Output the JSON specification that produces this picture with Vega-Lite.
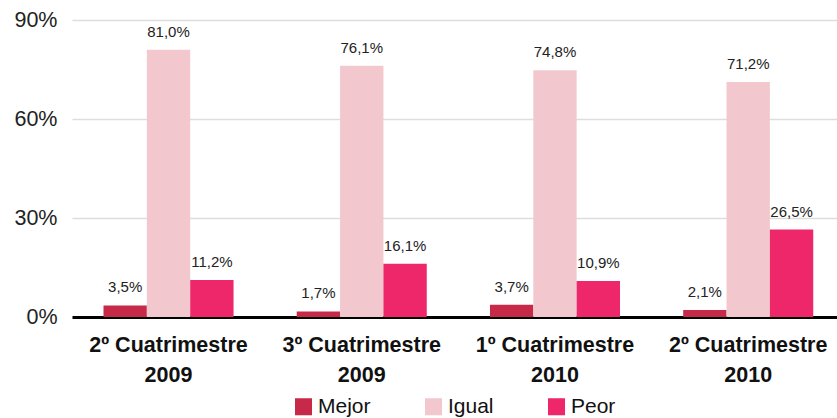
{
  "$schema": "https://vega.github.io/schema/vega-lite/v6.json",
  "autosize": "none",
  "width": 765,
  "height": 297,
  "padding": {"left": 72, "top": 20, "right": 0, "bottom": 101},
  "config": {
    "font": "Liberation Sans",
    "view": {"stroke": null},
    "legend": {"layout": {"bottom": {"anchor": "middle"}}},
    "locale": {"number": {"decimal": ",", "thousands": ".", "grouping": [3], "currency": ["", " €"]}}
  },
  "data": {
    "values": [
      {"periodo": "2º Cuatrimestre 2009", "opinion": "Mejor", "valor": 0.035},
      {"periodo": "2º Cuatrimestre 2009", "opinion": "Igual", "valor": 0.810},
      {"periodo": "2º Cuatrimestre 2009", "opinion": "Peor", "valor": 0.112},
      {"periodo": "3º Cuatrimestre 2009", "opinion": "Mejor", "valor": 0.017},
      {"periodo": "3º Cuatrimestre 2009", "opinion": "Igual", "valor": 0.761},
      {"periodo": "3º Cuatrimestre 2009", "opinion": "Peor", "valor": 0.161},
      {"periodo": "1º Cuatrimestre 2010", "opinion": "Mejor", "valor": 0.037},
      {"periodo": "1º Cuatrimestre 2010", "opinion": "Igual", "valor": 0.748},
      {"periodo": "1º Cuatrimestre 2010", "opinion": "Peor", "valor": 0.109},
      {"periodo": "2º Cuatrimestre 2010", "opinion": "Mejor", "valor": 0.021},
      {"periodo": "2º Cuatrimestre 2010", "opinion": "Igual", "valor": 0.712},
      {"periodo": "2º Cuatrimestre 2010", "opinion": "Peor", "valor": 0.265}
    ]
  },
  "encoding": {
    "x": {
      "field": "periodo", "type": "nominal", "sort": null, "title": null,
      "scale": {"paddingInner": 0.327, "paddingOuter": 0.143, "align": 0.57},
      "axis": {
        "labelAngle": 0, "ticks": false, "domainColor": "#000", "domainWidth": 3,
        "labelFont": "Liberation Sans", "labelFontSize": 21.5, "labelFontWeight": "bold", "labelColor": "#111",
        "labelPadding": 17, "labelLineHeight": 30, "labelBaseline": "top",
        "labelExpr": "[substring(datum.value, 0, 15), substring(datum.value, 16)]"
      }
    },
    "xOffset": {"field": "opinion", "type": "nominal", "sort": ["Mejor", "Igual", "Peor"]},
    "y": {
      "field": "valor", "type": "quantitative", "title": null,
      "scale": {"domain": [0, 0.9], "nice": false},
      "axis": {
        "values": [0, 0.3, 0.6, 0.9], "format": ".0%", "domain": false, "ticks": false,
        "labelFontSize": 21.5, "labelColor": "#222", "labelPadding": 15,
        "gridColor": "#dddddd", "gridWidth": 1.5
      }
    }
  },
  "layer": [
    {
      "mark": {"type": "bar"},
      "encoding": {
        "color": {
          "field": "opinion", "type": "nominal", "title": null,
          "scale": {"domain": ["Mejor", "Igual", "Peor"], "range": ["#C72A48", "#F2C8CE", "#EE276A"]},
          "legend": {
            "orient": "bottom", "direction": "horizontal", "symbolType": "square", "symbolSize": 290,
            "symbolStrokeWidth": 0, "labelFontSize": 21, "labelColor": "#111", "columnPadding": 52,
            "labelOffset": 4, "offset": 10, "symbolOpacity": 1
          }
        }
      }
    },
    {
      "mark": {"type": "text", "baseline": "bottom", "dy": -10, "fontSize": 15, "color": "#222"},
      "encoding": {
        "text": {"field": "valor", "type": "quantitative", "format": ".1%"}
      }
    }
  ]
}
